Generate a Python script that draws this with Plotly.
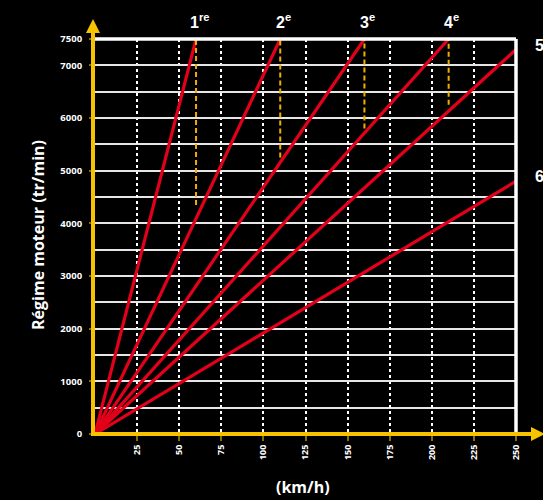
import plotly.graph_objects as go

# ---- data ----
gear_labels = ["1<sup>re</sup>", "2<sup>e</sup>", "3<sup>e</sup>", "4<sup>e</sup>", "5<sup>e</sup>", "6<sup>e</sup>"]
gear_end_speed = [60, 110, 160, 210, 250, 250]        # km/h
gear_end_rpm = [7500, 7500, 7500, 7500, 7300, 4800]   # tr/min
shift_speed = [60, 110, 160, 210]                     # km/h (dashed lines)
shift_rpm_low = [4350, 5250, 5800, 6250]              # bottom of dashed lines
y_ticks = [0, 1000, 2000, 3000, 4000, 5000, 6000, 7000, 7500]
x_ticks = [25, 50, 75, 100, 125, 150, 175, 200, 225, 250]

W, H = 543, 500
L, R, T, B = 95, 27, 39, 66
PW, PH = W - L - R, H - T - B

def px(x):
    return (x - L) / PW

def py(y):
    return (H - B - y) / PH

RED = "#e2001a"
YEL = "#f7c200"
DYEL = "#f2ae00"

fig = go.Figure()

for xs, ys in zip(gear_end_speed, gear_end_rpm):
    fig.add_trace(go.Scatter(x=[0, xs], y=[0, ys], mode="lines",
                             line=dict(color=RED, width=3.2), showlegend=False,
                             hoverinfo="skip"))

for xs, ylo in zip(shift_speed, shift_rpm_low):
    fig.add_trace(go.Scatter(x=[xs, xs], y=[ylo, 7500], mode="lines",
                             line=dict(color=DYEL, width=2, dash="5px,3px"),
                             showlegend=False, hoverinfo="skip"))

shapes = []
# white border top and right
shapes.append(dict(type="line", xref="paper", yref="paper", x0=0, x1=1, y0=1, y1=1,
                   line=dict(color="white", width=3.5)))
shapes.append(dict(type="line", xref="paper", yref="paper", x0=1, x1=1, y0=0, y1=1,
                   line=dict(color="white", width=3.5)))
# yellow axes
shapes.append(dict(type="line", xref="paper", yref="paper", x0=px(93), x1=px(93),
                   y0=py(436), y1=py(30), line=dict(color=YEL, width=4)))
shapes.append(dict(type="line", xref="paper", yref="paper", x0=px(91), x1=px(535),
                   y0=py(434), y1=py(434), line=dict(color=YEL, width=4)))
# arrow heads
shapes.append(dict(type="path", xref="paper", yref="paper",
                   path=f"M {px(86)},{py(33)} L {px(93)},{py(19)} L {px(100)},{py(33)} Z",
                   fillcolor=YEL, line=dict(color=YEL, width=0)))
shapes.append(dict(type="path", xref="paper", yref="paper",
                   path=f"M {px(531)},{py(427)} L {px(545)},{py(434)} L {px(531)},{py(441)} Z",
                   fillcolor=YEL, line=dict(color=YEL, width=0)))

annotations = []
for i, lab in enumerate(gear_labels[:4]):
    annotations.append(dict(x=shift_speed[i], y=py(21), xref="x", yref="paper",
                            text=lab, showarrow=False, xshift=3,
                            xanchor="center", yanchor="middle",
                            font=dict(family="Liberation Sans", size=16, color="white", weight="bold")))
for i in (4, 5):
    annotations.append(dict(x=gear_end_speed[i], y=gear_end_rpm[i], xref="x", yref="y",
                            text=gear_labels[i], showarrow=False, xanchor="left",
                            yanchor="middle", xshift=17, yshift=6,
                            font=dict(family="Liberation Sans", size=16, color="white", weight="bold")))
annotations.append(dict(x=px(38), y=py(235), xref="paper", yref="paper",
                        text="Régime moteur (tr/min)", textangle=-90, showarrow=False,
                        xanchor="center", yanchor="middle",
                        font=dict(family="Open Sans", size=16, color="white", weight="bold")))
annotations.append(dict(x=px(303), y=py(487), xref="paper", yref="paper",
                        text="(km/h)", showarrow=False,
                        xanchor="center", yanchor="middle",
                        font=dict(family="Open Sans", size=16, color="white", weight="bold")))

fig.update_layout(
    width=W, height=H, margin=dict(l=L, r=R, t=T, b=B),
    paper_bgcolor="black", plot_bgcolor="black",
    shapes=shapes, annotations=annotations, showlegend=False,
    xaxis=dict(range=[0, 250], tickvals=x_ticks, ticktext=[str(v) for v in x_ticks],
               tickangle=-90, showline=False, zeroline=False,
               showgrid=True, gridcolor="white", gridwidth=1.5, griddash="dot",
               ticks="outside", ticklen=6, tickcolor="#8a6d00", tickwidth=1.5,
               tickfont=dict(family="Open Sans", size=9, color="white", weight="bold")),
    yaxis=dict(range=[0, 7500], tickvals=y_ticks, ticktext=[str(v) for v in y_ticks],
               showline=False, zeroline=False,
               showgrid=True, gridcolor="#e6e6e6", gridwidth=1.5,
               minor=dict(dtick=500, showgrid=True, gridcolor="#e6e6e6", gridwidth=1.5),
               ticks="outside", ticklen=5, tickcolor="#8a6d00", tickwidth=1.5,
               ticklabelstandoff=5,
               tickfont=dict(family="Open Sans", size=9.5, color="white", weight="bold")),
)

fig.write_html("out.html", config={"displayModeBar": False},
               post_script="document.body.style.margin='0';document.body.style.background='black';")
